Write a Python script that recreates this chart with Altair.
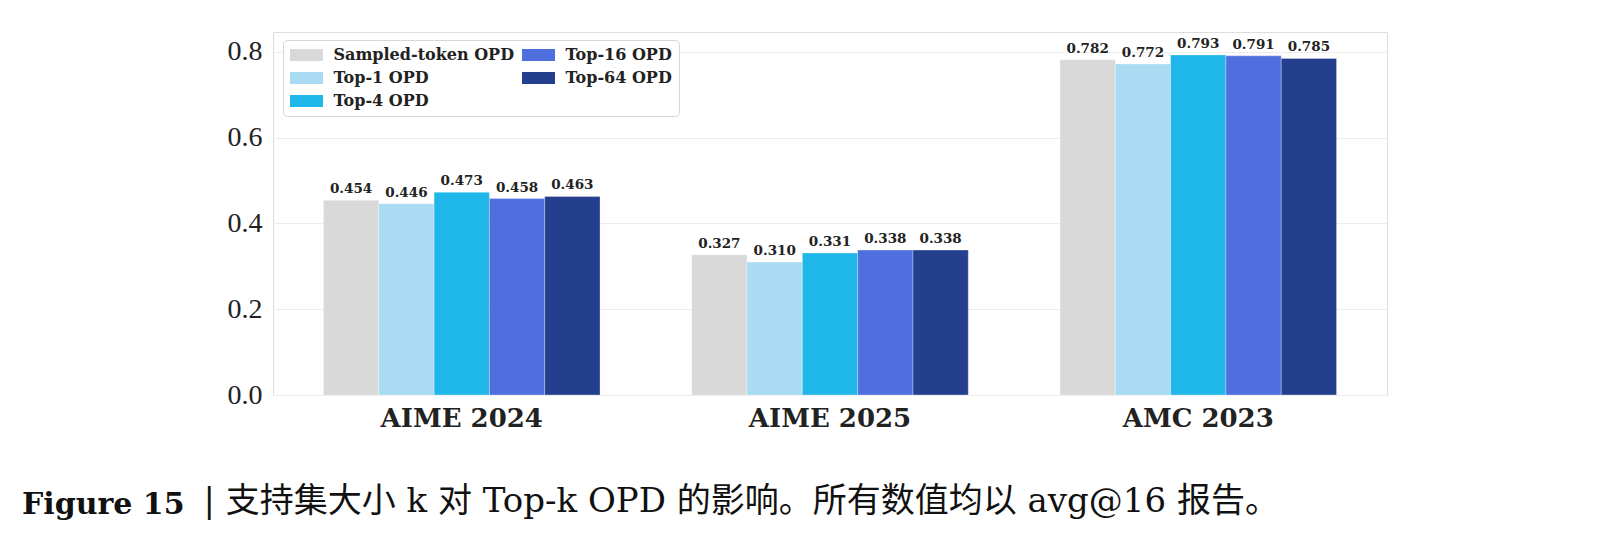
import altair as alt
import pandas as pd

benchmarks = ["AIME 2024", "AIME 2025", "AMC 2023"]
methods = ["Sampled-token OPD", "Top-1 OPD", "Top-4 OPD", "Top-16 OPD", "Top-64 OPD"]
colors = ["#d9d9d9", "#a9dcf3", "#1fb7e9", "#4e6fdd", "#243f8e"]
scores = {
    "Sampled-token OPD": [0.454, 0.327, 0.782],
    "Top-1 OPD": [0.446, 0.310, 0.772],
    "Top-4 OPD": [0.473, 0.331, 0.793],
    "Top-16 OPD": [0.458, 0.338, 0.791],
    "Top-64 OPD": [0.463, 0.338, 0.785],
}
y_ticks = [0.0, 0.2, 0.4, 0.6, 0.8]
caption_head = "Figure 15"
caption_rest = "| 支持集大小 k 对 Top-k OPD 的影响。所有数值均以 avg@16 报告。"

rows = []
for m in methods:
    for b, v in zip(benchmarks, scores[m]):
        rows.append({"benchmark": b, "method": m, "score": v, "label": f"{v:.3f}"})
df = pd.DataFrame(rows)

W, H = 1114, 363

x_enc = alt.X(
    "benchmark:N",
    sort=benchmarks,
    scale=alt.Scale(paddingInner=0.249, paddingOuter=0.137),
    axis=alt.Axis(
        title=caption_rest,
        titleFont="DejaVu Serif, Noto Sans CJK SC",
        titleFontSize=34,
        titleFontWeight="normal",
        titleColor="#111111",
        titleX=-70,
        titleY=116,
        titleAlign="left",
        titleBaseline="alphabetic",
        titleAnchor="start",
        labelFont="DejaVu Serif",
        labelFontWeight="bold",
        labelFontSize=26,
        labelColor="#222222",
        labelPadding=31,
        labelBaseline="alphabetic",
        labelAngle=0,
        ticks=False,
        tickSize=0,
        domain=False,
        grid=False,
    ),
)
xo_enc = alt.XOffset("method:N", sort=methods, scale=alt.Scale(paddingInner=0, paddingOuter=0))
y_enc = alt.Y(
    "score:Q",
    scale=alt.Scale(domain=[0, 0.8466], nice=False, zero=True),
    axis=alt.Axis(
        title=None,
        values=y_ticks,
        format=".1f",
        labelFont="Liberation Serif",
        labelFontSize=28,
        labelColor="#222222",
        labelPadding=11,
        ticks=False,
        tickSize=0,
        domain=False,
        grid=True,
        gridColor="#ededed",
        gridWidth=1,
    ),
)

bars = alt.Chart(df).mark_bar(stroke="white", strokeWidth=0.5, strokeOpacity=0.6).encode(
    x=x_enc,
    xOffset=xo_enc,
    y=y_enc,
    color=alt.Color(
        "method:N",
        scale=alt.Scale(domain=methods, range=colors),
        legend=alt.Legend(
            title=None,
            orient="none",
            legendX=10,
            legendY=8,
            columns=2,
            columnPadding=8,
            rowPadding=7,
            padding=7,
            symbolType="M-2.75,-1H2.75V1H-2.75Z",
            symbolSize=144,
            symbolStrokeWidth=0,
            symbolOffset=8.5,
            labelOffset=19,
            labelFont="DejaVu Serif",
            labelFontWeight="bold",
            labelFontSize=16,
            labelColor="#222222",
            labelLimit=400,
            fillColor="white",
            strokeColor="#d6d6d6",
            cornerRadius=4,
        ),
    ),
)

labels = alt.Chart(df).mark_text(
    baseline="alphabetic",
    dy=-7,
    font="DejaVu Serif",
    fontWeight="bold",
    fontSize=13.5,
    color="#222222",
).encode(
    x=alt.X("benchmark:N", sort=benchmarks),
    xOffset=alt.XOffset("method:N", sort=methods),
    y=alt.Y("score:Q"),
    text="label:N",
)

chart = (
    alt.layer(bars, labels)
    .properties(
        width=W,
        height=H,
        padding={"left": 265, "top": 24, "right": 217, "bottom": 141},
        autosize=alt.AutoSizeParams(type="none"),
        title=alt.TitleParams(
            caption_head,
            orient="top",
            anchor="start",
            frame="group",
            offset=0,
            dx=-251,
            dy=512,
            baseline="alphabetic",
            font="DejaVu Serif",
            fontWeight="bold",
            fontSize=30,
            color="#111111",
        ),
    )
    .configure_view(stroke="#5a5a5a", strokeWidth=1.3)
    .configure(background="white")
)

chart.save("out.html", embed_options={"renderer": "svg", "actions": False})
